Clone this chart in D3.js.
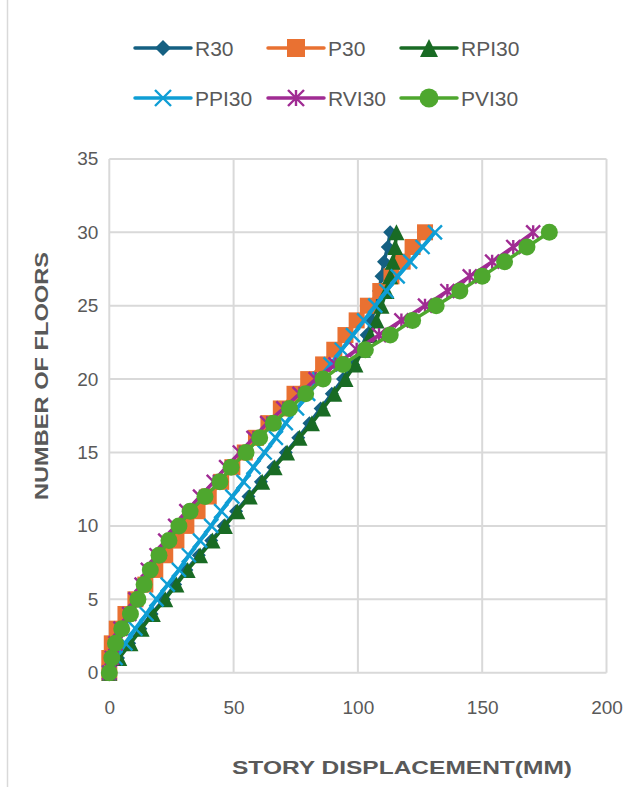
<!DOCTYPE html>
<html>
<head>
<meta charset="utf-8">
<script src="https://cdn.jsdelivr.net/npm/d3@7"></script>
<style>
  html, body { margin: 0; padding: 0; background: #fff; }
  svg { display: block; font-family: "Liberation Sans", Arial, sans-serif; }
</style>
</head>
<body>
<svg id="chart" width="640" height="787"></svg>
<script>
// floors 0..30
const floors = [0, 1, 2, 3, 4, 5, 6, 7, 8, 9, 10, 11, 12, 13, 14, 15, 16, 17, 18, 19, 20, 21, 22, 23, 24, 25, 26, 27, 28, 29, 30];

// story displacement (mm) per floor
const r30 = [0, 3.5, 8, 12.5, 17, 22, 26.5, 31, 36, 41, 46, 51, 56, 61, 66, 71, 76, 80.5, 85, 89.5, 94, 98, 101, 103.5, 105.5, 107, 108.5, 109.5, 110.5, 112, 113];
const p30 = [0, 0, 1, 3, 6.5, 10.5, 14.5, 18.5, 22.5, 27, 31, 35.5, 40, 45, 49.5, 54.5, 59, 64, 69, 74.5, 80, 86, 90.5, 95, 99.5, 104, 109, 113.5, 118, 122, 127];
const rpi30 = [0, 4, 8.5, 13, 17.5, 22.5, 27, 31.5, 36.5, 41.5, 46.5, 51.5, 56.5, 61.5, 66.5, 71.5, 76.5, 81.5, 86, 90.5, 95, 99, 102, 105, 107.5, 109.5, 111.5, 113, 114, 115, 115.5];
const ppi30 = [0, 2.5, 6.5, 10.5, 15, 19, 23.5, 28, 32, 36.5, 41, 45, 49.5, 54, 58, 62.5, 67, 71, 75.5, 80, 84.5, 89, 93.5, 98, 102.5, 107, 111.5, 116, 121, 126, 131];
const rvi30 = [0, 1, 2.5, 4.5, 8, 10.5, 13, 15.5, 19, 22.5, 26.5, 31, 36.5, 42, 47, 52.5, 58, 63.5, 70, 76.5, 83, 91, 99.5, 108.5, 117.5, 127, 136, 145, 154, 162.5, 170.5];
const pvi30 = [0, 1, 2.5, 5, 8.5, 11.5, 14, 16.5, 20, 24, 28, 32.5, 38.5, 44.5, 49, 55, 60.5, 66, 72.5, 79, 86, 94, 103, 113, 122, 131.5, 141, 150, 159, 168, 177];

const seriesNames = ['R30', 'P30', 'RPI30', 'PPI30', 'RVI30', 'PVI30'];
const xTicks = [0, 50, 100, 150, 200];
const yTicks = [0, 5, 10, 15, 20, 25, 30, 35];

const series = [
  {name: 'R30', values: r30, color: '#156082', marker: 'diamond'},
  {name: 'P30', values: p30, color: '#E97132', marker: 'square'},
  {name: 'RPI30', values: rpi30, color: '#196B24', marker: 'triangle'},
  {name: 'PPI30', values: ppi30, color: '#0F9ED5', marker: 'x'},
  {name: 'RVI30', values: rvi30, color: '#A02B93', marker: 'star'},
  {name: 'PVI30', values: pvi30, color: '#4EA72E', marker: 'circle'}
];

const svg = d3.select('#chart');
const textColor = '#595959';
const gridColor = '#d9d9d9';

// chart border (only the left edge shows in the picture)
svg.append('line')
  .attr('x1', 7.5).attr('x2', 7.5)
  .attr('y1', 0).attr('y2', 787)
  .attr('stroke', gridColor)
  .attr('stroke-width', 1.5);

const x = d3.scaleLinear().domain([0, 200]).range([109.3, 606.5]);
const y = d3.scaleLinear().domain([0, 35]).range([672.7, 158.9]);

// grid
const grid = svg.append('g');
grid.selectAll('line.v').data(xTicks).join('line')
  .attr('x1', d => x(d)).attr('x2', d => x(d))
  .attr('y1', y(35)).attr('y2', y(0))
  .attr('stroke', gridColor).attr('stroke-width', 2);
grid.selectAll('line.h').data(yTicks).join('line')
  .attr('x1', x(0)).attr('x2', x(200))
  .attr('y1', d => y(d)).attr('y2', d => y(d))
  .attr('stroke', gridColor).attr('stroke-width', 2);

// axes (labels only)
const xAxis = svg.append('g')
  .attr('transform', `translate(0,${y(0)})`)
  .call(d3.axisBottom(x).tickValues(xTicks).tickSize(0).tickPadding(28));
const yAxis = svg.append('g')
  .attr('transform', `translate(${x(0)},0)`)
  .call(d3.axisLeft(y).tickValues(yTicks).tickSize(0).tickPadding(11));
[xAxis, yAxis].forEach(a => {
  a.select('.domain').remove();
  a.selectAll('text')
    .attr('fill', textColor)
    .style('font-size', '19px')
    .style('font-family', '"Liberation Sans", Arial, sans-serif');
});

// axis titles
svg.append('text')
  .attr('x', 402).attr('y', 774)
  .attr('text-anchor', 'middle')
  .attr('fill', textColor)
  .style('font-size', '19px').style('font-weight', 'bold')
  .attr('textLength', 340).attr('lengthAdjust', 'spacingAndGlyphs')
  .text('STORY DISPLACEMENT(MM)');

svg.append('text')
  .attr('transform', 'translate(48,376) rotate(-90)')
  .attr('text-anchor', 'middle')
  .attr('fill', textColor)
  .style('font-size', '19px').style('font-weight', 'bold')
  .attr('textLength', 248).attr('lengthAdjust', 'spacingAndGlyphs')
  .text('NUMBER OF FLOORS');

// marker drawing
function drawMarker(g, type, color, size) {
  const s = size;
  if (type === 'diamond') {
    g.append('path').attr('d', `M0,${-s / 2}L${s / 2},0L0,${s / 2}L${-s / 2},0Z`).attr('fill', color);
  } else if (type === 'square') {
    g.append('rect').attr('x', -s / 2).attr('y', -s / 2).attr('width', s).attr('height', s).attr('fill', color);
  } else if (type === 'triangle') {
    g.append('path').attr('d', `M0,${-s / 2}L${s / 2},${s / 2}L${-s / 2},${s / 2}Z`).attr('fill', color);
  } else if (type === 'x') {
    const h = s / 2;
    g.append('path').attr('d', `M${-h},${-h}L${h},${h}M${-h},${h}L${h},${-h}`)
      .attr('stroke', color).attr('stroke-width', 2.4).attr('fill', 'none');
  } else if (type === 'star') {
    const h = s / 2;
    g.append('path').attr('d', `M${-h},${-h}L${h},${h}M${-h},${h}L${h},${-h}M0,${-h}L0,${h}`)
      .attr('stroke', color).attr('stroke-width', 2.4).attr('fill', 'none');
  } else if (type === 'circle') {
    g.append('circle').attr('r', s / 2).attr('fill', color);
  }
}

const markerSize = {diamond: 14, square: 16, triangle: 16, x: 14, star: 14, circle: 17};

const line = d3.line()
  .x(d => x(d[0]))
  .y(d => y(d[1]));

series.forEach(s => {
  const pts = s.values.map((v, i) => [v, floors[i]]);
  const g = svg.append('g');
  g.append('path')
    .datum(pts)
    .attr('d', line)
    .attr('fill', 'none')
    .attr('stroke', s.color)
    .attr('stroke-width', s.marker === 'x' ? 4 : 3.5)
    .attr('stroke-linejoin', 'round');
  pts.forEach(p => {
    const m = g.append('g').attr('transform', `translate(${x(p[0])},${y(p[1])})`);
    drawMarker(m, s.marker, s.color, markerSize[s.marker]);
  });
});

// legend
const legendPos = [
  {lx: 135, ty: 48}, {lx: 268, ty: 48}, {lx: 401, ty: 48},
  {lx: 135, ty: 98}, {lx: 268, ty: 98}, {lx: 401, ty: 98}
];
series.forEach((s, i) => {
  const p = legendPos[i];
  const g = svg.append('g').attr('transform', `translate(${p.lx},${p.ty})`);
  g.append('line').attr('x1', 0).attr('x2', 56).attr('y1', 0).attr('y2', 0)
    .attr('stroke', s.color).attr('stroke-width', 3.5).attr('stroke-linecap', 'round');
  const m = g.append('g').attr('transform', 'translate(28,0)');
  drawMarker(m, s.marker, s.color, markerSize[s.marker] + 2);
  g.append('text')
    .attr('x', 60).attr('y', 7.5)
    .attr('fill', textColor)
    .style('font-size', '21px')
    .text(seriesNames[i]);
});
</script>
</body>
</html>
